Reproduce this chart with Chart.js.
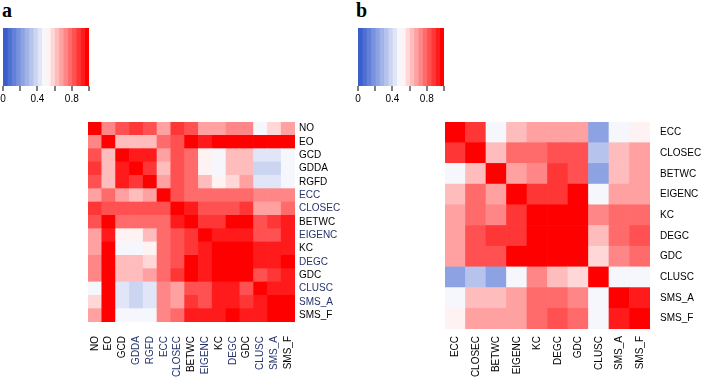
<!DOCTYPE html>
<html lang="en">
<head>
<meta charset="UTF-8">
<title>Correlation heatmaps</title>
<script src="https://cdn.jsdelivr.net/npm/chart.js"></script>
<style>
  body { margin: 0; background: #fff; width: 708px; height: 385px; position: relative; overflow: hidden; }
  .tag { position: absolute; font: bold 20px "Liberation Serif", "DejaVu Serif", serif; line-height: 20px; }
  canvas { position: absolute; }
</style>
</head>
<body>
<div class="tag" style="left:2px;top:0px">a</div>
<div class="tag" style="left:356px;top:0px">b</div>
<canvas id="keyA" width="100" height="80" style="left:-1px;top:28px"></canvas>
<canvas id="keyB" width="100" height="80" style="left:348px;top:28px"></canvas>
<canvas id="heatA" width="277" height="262" style="left:88px;top:122px"></canvas>
<canvas id="heatB" width="275" height="262" style="left:445px;top:122px"></canvas>

<script>
    // panel a: all measures
    const measuresA = ['NO', 'EO', 'GCD', 'GDDA', 'RGFD', 'ECC', 'CLOSEC', 'BETWC', 'EIGENC', 'KC', 'DEGC', 'GDC', 'CLUSC', 'SMS_A', 'SMS_F'];
    const corrA = [
        [1.00, 0.70, 0.80, 0.88, 0.80, 0.68, 0.88, 0.82, 0.68, 0.68, 0.72, 0.72, 0.48, 0.55, 0.68],
        [0.70, 1.00, 0.62, 0.62, 0.62, 0.75, 0.80, 0.97, 0.92, 0.95, 1.00, 0.95, 0.95, 0.95, 0.95],
        [0.80, 0.62, 1.00, 0.90, 0.90, 0.68, 0.80, 0.75, 0.52, 0.48, 0.60, 0.60, 0.40, 0.44, 0.48],
        [0.88, 0.62, 0.90, 1.00, 0.85, 0.60, 0.82, 0.75, 0.52, 0.48, 0.60, 0.60, 0.38, 0.39, 0.46],
        [0.80, 0.62, 0.90, 0.85, 1.00, 0.68, 0.82, 0.75, 0.60, 0.53, 0.58, 0.65, 0.44, 0.44, 0.47],
        [0.68, 0.75, 0.68, 0.60, 0.68, 1.00, 0.82, 0.76, 0.76, 0.76, 0.76, 0.76, 0.72, 0.72, 0.72],
        [0.88, 0.80, 0.80, 0.82, 0.82, 0.82, 1.00, 0.90, 0.80, 0.80, 0.80, 0.88, 0.66, 0.66, 0.76],
        [0.82, 0.97, 0.75, 0.75, 0.75, 0.76, 0.90, 1.00, 0.85, 0.85, 0.95, 0.95, 0.80, 0.85, 0.92],
        [0.68, 0.92, 0.52, 0.52, 0.60, 0.76, 0.80, 0.85, 1.00, 0.93, 0.93, 0.93, 0.82, 0.82, 0.90],
        [0.68, 0.95, 0.48, 0.48, 0.53, 0.76, 0.80, 0.85, 0.93, 1.00, 0.99, 0.99, 0.93, 0.93, 0.93],
        [0.72, 1.00, 0.60, 0.60, 0.58, 0.76, 0.80, 0.95, 0.93, 0.99, 1.00, 0.99, 0.93, 0.93, 1.00],
        [0.72, 0.95, 0.60, 0.60, 0.65, 0.76, 0.88, 0.95, 0.93, 0.99, 0.99, 1.00, 0.82, 0.85, 0.93],
        [0.48, 0.95, 0.40, 0.38, 0.44, 0.72, 0.66, 0.80, 0.82, 0.93, 0.93, 0.82, 1.00, 0.92, 0.92],
        [0.55, 0.95, 0.44, 0.39, 0.44, 0.72, 0.66, 0.85, 0.82, 0.93, 0.93, 0.85, 0.92, 1.00, 0.95],
        [0.68, 0.95, 0.48, 0.46, 0.47, 0.72, 0.76, 0.92, 0.90, 0.93, 1.00, 0.93, 0.92, 0.95, 1.00]
    ];
    const navyRowsA = ['ECC', 'CLOSEC', 'EIGENC', 'DEGC', 'CLUSC', 'SMS_A'];
    const navyColsA = ['GDDA', 'RGFD', 'ECC', 'CLOSEC', 'EIGENC', 'DEGC', 'CLUSC', 'SMS_A'];

    // panel b: centrality measures only
    const measuresB = ['ECC', 'CLOSEC', 'BETWC', 'EIGENC', 'KC', 'DEGC', 'GDC', 'CLUSC', 'SMS_A', 'SMS_F'];
    const corrB = [
        [1.00, 0.85, 0.48, 0.60, 0.68, 0.68, 0.68, 0.24, 0.48, 0.53],
        [0.85, 1.00, 0.60, 0.76, 0.76, 0.80, 0.80, 0.32, 0.60, 0.65],
        [0.48, 0.60, 1.00, 0.68, 0.72, 0.85, 0.80, 0.22, 0.60, 0.65],
        [0.60, 0.76, 0.68, 1.00, 0.85, 0.85, 0.95, 0.48, 0.65, 0.65],
        [0.68, 0.76, 0.72, 0.85, 1.00, 0.95, 0.95, 0.70, 0.76, 0.76],
        [0.68, 0.80, 0.85, 0.85, 0.95, 1.00, 0.95, 0.60, 0.76, 0.82],
        [0.68, 0.80, 0.80, 0.95, 0.95, 0.95, 1.00, 0.55, 0.72, 0.76],
        [0.24, 0.32, 0.22, 0.48, 0.70, 0.60, 0.55, 1.00, 0.48, 0.48],
        [0.48, 0.60, 0.60, 0.65, 0.76, 0.76, 0.72, 0.48, 1.00, 0.90],
        [0.53, 0.65, 0.65, 0.65, 0.76, 0.82, 0.76, 0.48, 0.90, 1.00]
    ];

    // colour key
    const keyTicks = [0, 0.4, 0.8];
    const keySteps = 20;

    const fontFam = '"Liberation Sans", Arial, sans-serif';
    const blue = [58, 95, 205];
    const red = [255, 0, 0];

    function stepColor(k) {
        const t = k / (keySteps - 1);
        let c;
        if (t < 0.5) {
            const f = t / 0.5;
            c = blue.map(b => Math.round(b + (255 - b) * f));
        } else {
            const f = (t - 0.5) / 0.5;
            c = red.map(r => Math.round(255 + (r - 255) * f));
        }
        return `rgb(${c[0]},${c[1]},${c[2]})`;
    }
    const palette = Array.from({ length: keySteps }, (_, k) => stepColor(k));

    function colorFor(v) {
        const k = Math.min(keySteps - 1, Math.max(0, Math.floor(v * keySteps)));
        return palette[k];
    }

    // short tick marks under the colour key, placed by the x scale
    const keyTickMarks = {
        id: 'keyTickMarks',
        afterDraw(chart) {
            const sx = chart.scales.x;
            const ctx = chart.ctx;
            const y0 = Math.round(sx.top);
            ctx.save();
            ctx.fillStyle = '#000';
            sx.ticks.forEach(t => {
                const px = Math.round(sx.getPixelForValue(t.value));
                ctx.fillRect(px - 0.5, y0, 1, 5);
            });
            ctx.restore();
        }
    };

    function drawKey(id, padLeft) {
        const datasets = palette.map((col, k) => ({
            data: [[k / keySteps, (k + 1) / keySteps]],
            backgroundColor: col,
            borderWidth: 0,
            grouped: false,
            barPercentage: 1,
            categoryPercentage: 1
        }));
        new Chart(document.getElementById(id), {
            type: 'bar',
            data: { labels: ['key'], datasets: datasets },
            plugins: [keyTickMarks],
            options: {
                indexAxis: 'y',
                responsive: false,
                animation: false,
                layout: { padding: { left: padLeft, right: 100 - padLeft - 86, top: 0, bottom: 0 } },
                plugins: { legend: { display: false }, tooltip: { enabled: false } },
                scales: {
                    x: {
                        type: 'linear', min: 0, max: 1,
                        grid: { display: false, drawTicks: false },
                        border: { display: false },
                        ticks: {
                            stepSize: 0.2,
                            autoSkip: false,
                            minRotation: 0,
                            maxRotation: 0,
                            padding: 7,
                            color: '#000',
                            font: { size: 10, family: fontFam },
                            callback: v => {
                                const r = Math.round(v * 10) / 10;
                                return keyTicks.includes(r) ? String(r) : '';
                            }
                        },
                        afterFit: s => { s.height = 22; s.paddingLeft = 0; s.paddingRight = 0; }
                    },
                    y: { display: false, grid: { display: false } }
                }
            }
        });
    }

    function drawHeat(id, names, matrix, o) {
        const datasets = names.map((rowName, r) => ({
            label: rowName,
            data: names.map(() => 1),
            backgroundColor: matrix[r].map(colorFor),
            borderWidth: 0,
            barPercentage: 1,
            categoryPercentage: 1
        })).reverse();   // bottom of the stack is the last row

        new Chart(document.getElementById(id), {
            type: 'bar',
            data: { labels: names, datasets: datasets },
            options: {
                responsive: false,
                animation: false,
                layout: { padding: 0 },
                plugins: { legend: { display: false }, tooltip: { enabled: false } },
                scales: {
                    x: {
                        stacked: true,
                        grid: { display: false, drawTicks: false },
                        border: { display: false },
                        ticks: {
                            autoSkip: false, minRotation: 90, maxRotation: 90,
                            padding: o.xPad,
                            font: { size: 10, family: fontFam },
                            color: c => o.navyCols.includes(names[c.index]) ? '#26336b' : '#000'
                        },
                        afterFit: s => { s.height = o.bottom; s.paddingLeft = 0; s.paddingRight = 0; }
                    },
                    y: { stacked: true, min: 0, max: names.length, display: false },
                    rows: {
                        type: 'category',
                        labels: names,
                        position: 'right',
                        offset: true,
                        grid: { display: false, drawTicks: false },
                        border: { display: false },
                        ticks: {
                            autoSkip: false,
                            padding: o.yPad,
                            font: { size: 10, family: fontFam },
                            color: c => o.navyRows.includes(names[c.index]) ? '#26336b' : '#000'
                        },
                        afterFit: s => { s.width = o.right; s.paddingTop = 0; s.paddingBottom = 0; }
                    }
                }
            }
        });
    }

    drawKey('keyA', 4);
    drawKey('keyB', 10);
    drawHeat('heatA', measuresA, corrA, { xPad: 14, yPad: 4, bottom: 62, right: 70, navyRows: navyRowsA, navyCols: navyColsA });
    drawHeat('heatB', measuresB, corrB, { xPad: 7, yPad: 10, bottom: 55, right: 70, navyRows: [], navyCols: [] });
</script>
</body>
</html>
